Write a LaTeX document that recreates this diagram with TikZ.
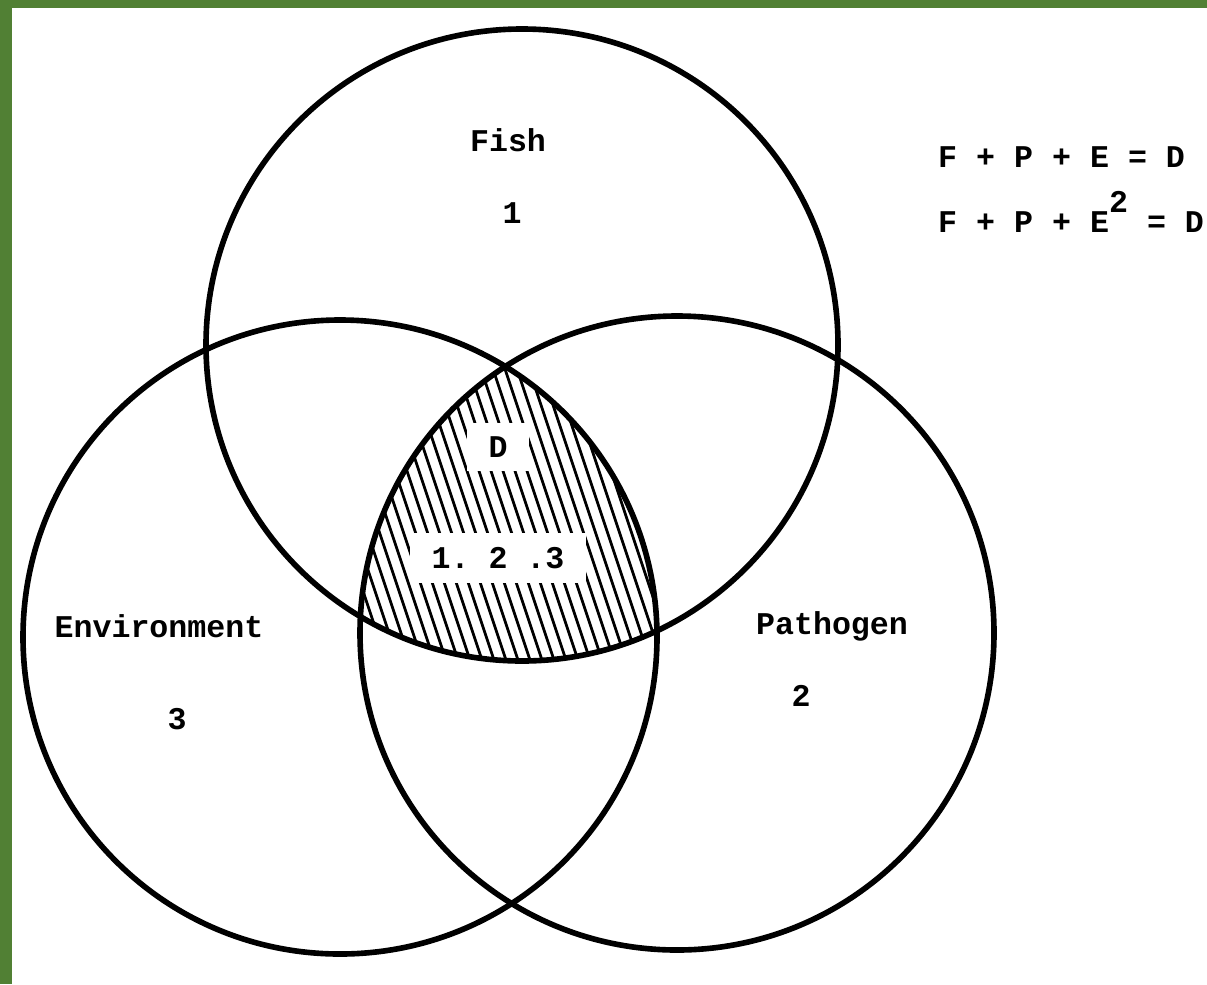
\documentclass[tikz,border=0pt]{standalone}
\usepackage{fontspec}
\setmonofont{Liberation Mono}
\usetikzlibrary{positioning}
\definecolor{frame}{HTML}{518034}

\begin{document}
\begin{tikzpicture}[
  ring/.style={draw=black, line width=1.6pt},
  hatch/.style={line width=0.8pt, black},
  typed/.style={font=\ttfamily\bfseries\fontsize{9}{11}\selectfont, text=black, inner sep=1pt},
  cleared/.style={typed, fill=white, inner xsep=6pt, inner ysep=4pt},
]

\useasboundingbox (0,0) rectangle (12.07,-9.84);

% Page frame
\fill[frame] (0,0) rectangle (12.07,-0.08);
\fill[frame] (0,0) rectangle (0.12,-9.84);

% Circle centres
\coordinate (fishc) at (5.22,-3.45);
\coordinate (envc)  at (3.40,-6.37);
\coordinate (pathc) at (6.77,-6.33);

% =============================================
% Shaded core: Fish + Pathogen + Environment
% =============================================
\begin{scope}
  \clip (fishc) circle (3.16);
  \clip (envc) circle (3.17);
  \clip (pathc) circle (3.17);
  \foreach \i in {0,...,46}
    \draw[hatch] ({2.4+0.12*\i},-3.3) -- ++(1.2,-3.6);
\end{scope}

% =============================================
% The three circles
% =============================================
\draw[ring] (fishc) circle (3.16);
\draw[ring] (envc) circle (3.17);
\draw[ring] (pathc) circle (3.17);

% Labels
\node[typed] (fish) at (5.08,-1.40) {Fish};
\node[typed] (one) at (5.12,-2.13) {1};

\node[typed] (environment) at (1.59,-6.26) {Environment};
\node[typed] (three) at (1.77,-7.19) {3};

\node[typed] (pathogen) at (8.32,-6.26) {Pathogen};
\node[typed] (two) at (8.01,-6.96) {2};

\node[cleared] (disease) at (4.98,-4.47) {D};
\node[cleared] (core) at (4.98,-5.58) {1. 2 .3};

% Equations
\node[typed, anchor=base west] (eqone) at (9.34,-1.67) {F + P + E = D};
\node[typed, anchor=base west] (eqtwo) at (9.34,-2.32)
  {F + P + E\raisebox{5.5pt}{2} = D};

\end{tikzpicture}
\end{document}
